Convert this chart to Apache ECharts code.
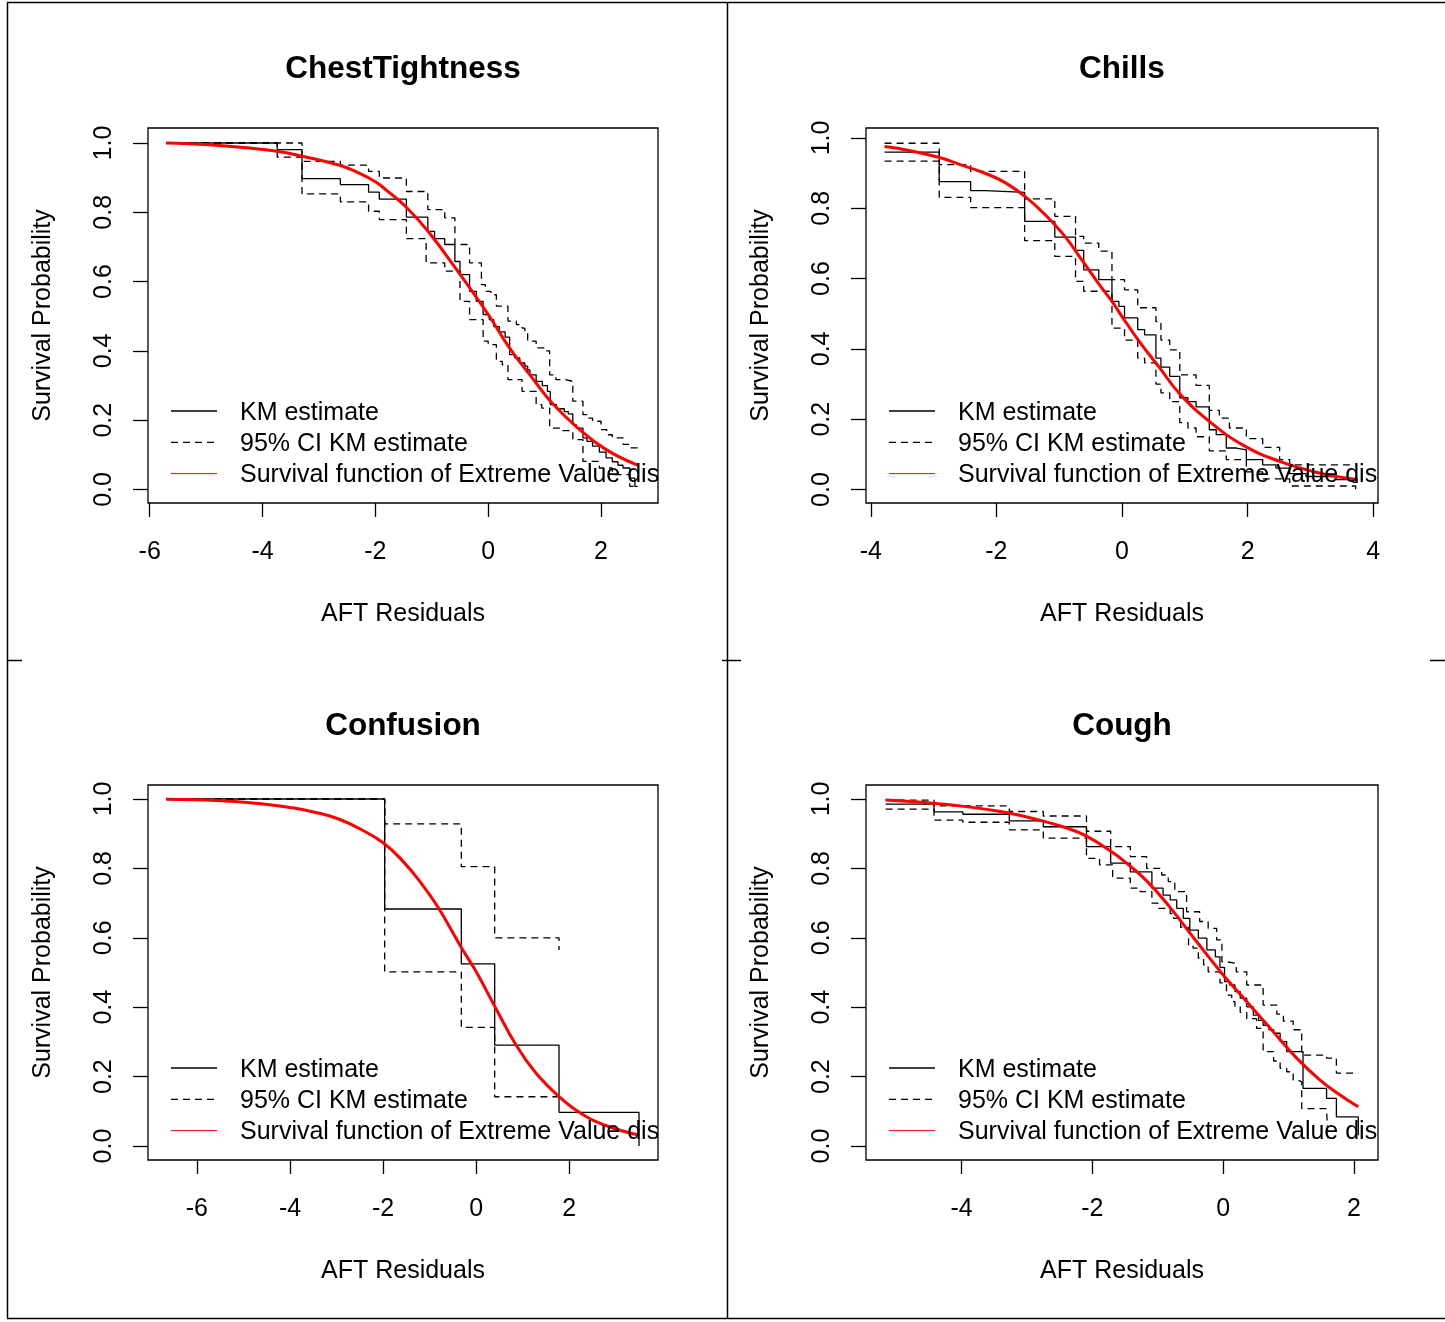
<!DOCTYPE html>
<html>
<head>
<meta charset="utf-8">
<title>AFT residual survival checks</title>
<script src="https://cdn.jsdelivr.net/npm/echarts@6/dist/echarts.min.js"></script>
<style>
  html, body { margin: 0; padding: 0; background: #ffffff; }
  #chart { width: 1445px; height: 1322px; }
</style>
</head>
<body>
<div id="chart"></div>
<script>
// ---- Panel titles, legend labels and tick values ----
const panelTitles = ['ChestTightness', 'Chills', 'Confusion', 'Cough'];
const legendLabels = ['KM estimate', '95% CI KM estimate', 'Survival function of Extreme Value distribution'];
const survTicks = [0, 0.2, 0.4, 0.6, 0.8, 1.0];
const chestXTicks = [-6, -4, -2, 0, 2];
const chillsXTicks = [-4, -2, 0, 2, 4];
const confusionXTicks = [-6, -4, -2, 0, 2];
const coughXTicks = [-4, -2, 0, 2];

// ---- ChestTightness: [residual, survival] ----
const chestKM = [[-5.71,1.0],[-3.74,0.981],[-3.30,0.897],[-2.62,0.880],[-2.12,0.858],[-1.93,0.838],[-1.45,0.786],[-1.07,0.745],[-0.95,0.724],[-0.77,0.707],[-0.59,0.658],[-0.50,0.620],[-0.33,0.572],[-0.21,0.543],[-0.09,0.505],[0.02,0.490],[0.10,0.470],[0.20,0.455],[0.30,0.440],[0.38,0.389],[0.47,0.380],[0.56,0.365],[0.65,0.356],[0.70,0.345],[0.74,0.331],[0.85,0.312],[0.96,0.300],[1.05,0.283],[1.10,0.245],[1.21,0.233],[1.35,0.225],[1.42,0.218],[1.50,0.187],[1.56,0.177],[1.68,0.149],[1.75,0.139],[1.85,0.125],[1.97,0.108],[2.09,0.091],[2.20,0.080],[2.30,0.070],[2.39,0.062],[2.51,0.033],[2.60,0.009],[2.65,0.009]];
const chestUpper = [[-5.71,1.0],[-3.30,0.947],[-2.62,0.936],[-2.12,0.918],[-1.93,0.899],[-1.45,0.860],[-1.07,0.808],[-0.77,0.784],[-0.59,0.707],[-0.33,0.654],[-0.12,0.591],[-0.05,0.572],[0.05,0.562],[0.145,0.529],[0.35,0.486],[0.50,0.476],[0.60,0.466],[0.65,0.450],[0.70,0.428],[0.85,0.409],[1.00,0.400],[1.09,0.331],[1.20,0.317],[1.37,0.312],[1.50,0.255],[1.68,0.216],[1.75,0.206],[1.85,0.197],[2.00,0.173],[2.10,0.158],[2.20,0.149],[2.39,0.130],[2.50,0.120],[2.65,0.120]];
const chestLower = [[-5.71,1.0],[-3.74,0.959],[-3.30,0.853],[-2.62,0.830],[-2.12,0.803],[-1.93,0.779],[-1.45,0.724],[-1.10,0.654],[-0.77,0.630],[-0.50,0.543],[-0.33,0.490],[-0.09,0.428],[0.00,0.418],[0.145,0.370],[0.25,0.360],[0.35,0.317],[0.60,0.283],[0.85,0.245],[0.95,0.235],[1.09,0.177],[1.30,0.170],[1.50,0.144],[1.68,0.081],[1.97,0.062],[2.20,0.043],[2.51,0.009],[2.65,0.009]];
const chestFit = [[-5.71,1.0],[-4.95,0.995],[-4.27,0.986],[-3.74,0.976],[-3.30,0.962],[-2.62,0.935],[-2.30,0.914],[-2.00,0.888],[-1.79,0.862],[-1.46,0.816],[-1.07,0.746],[-0.54,0.630],[0.0,0.505],[0.38,0.408],[0.79,0.320],[1.12,0.252],[1.62,0.173],[2.09,0.115],[2.65,0.070]];

// ---- Chills ----
const chillsKM = [[-3.78,0.960],[-2.91,0.876],[-2.41,0.850],[-2.17,0.845],[-1.55,0.763],[-1.07,0.718],[-0.74,0.680],[-0.61,0.625],[-0.37,0.597],[-0.16,0.535],[-0.05,0.521],[0.04,0.488],[0.25,0.455],[0.36,0.440],[0.54,0.374],[0.62,0.348],[0.76,0.322],[0.92,0.261],[1.05,0.250],[1.18,0.235],[1.39,0.170],[1.50,0.156],[1.66,0.118],[1.82,0.113],[1.98,0.085],[2.24,0.070],[2.45,0.061],[2.67,0.045],[2.93,0.037],[3.41,0.028],[3.68,0.020],[3.755,0.020]];
const chillsUpper = [[-3.78,0.985],[-2.91,0.924],[-2.41,0.905],[-1.55,0.827],[-1.07,0.777],[-0.74,0.720],[-0.61,0.701],[-0.37,0.678],[-0.16,0.597],[0.04,0.568],[0.25,0.517],[0.54,0.478],[0.62,0.425],[0.76,0.397],[0.92,0.326],[1.18,0.296],[1.39,0.225],[1.55,0.203],[1.71,0.175],[1.98,0.145],[2.24,0.120],[2.51,0.085],[2.67,0.070],[3.68,0.070]];
const chillsLower = [[-3.78,0.934],[-2.91,0.831],[-2.41,0.802],[-1.55,0.708],[-1.07,0.663],[-0.74,0.592],[-0.61,0.564],[-0.16,0.459],[0.04,0.425],[0.25,0.374],[0.36,0.360],[0.54,0.300],[0.62,0.275],[0.76,0.250],[0.92,0.190],[1.05,0.175],[1.18,0.150],[1.39,0.110],[1.66,0.085],[1.98,0.050],[2.24,0.030],[2.67,0.010],[3.68,0.010],[3.72,0.0]];
const chillsFit = [[-3.78,0.976],[-3.55,0.970],[-2.92,0.945],[-2.49,0.919],[-2.17,0.899],[-1.86,0.873],[-1.54,0.833],[-1.22,0.781],[-0.90,0.718],[-0.64,0.653],[-0.37,0.585],[-0.16,0.535],[0.0,0.492],[0.28,0.420],[0.60,0.346],[0.92,0.272],[1.39,0.194],[1.92,0.127],[2.51,0.080],[3.14,0.047],[3.755,0.028]];

// ---- Confusion ----
const confusionKM = [[-6.66,1.0],[-1.966,0.683],[-0.32,0.525],[0.397,0.291],[1.779,0.097],[3.497,0.0]];
const confusionUpper = [[-6.66,1.0],[-1.966,0.928],[-0.32,0.805],[0.397,0.600],[1.779,0.565]];
const confusionLower = [[-6.66,1.0],[-1.966,0.502],[-0.32,0.342],[0.397,0.142],[1.779,0.142]];
const confusionFit = [[-6.66,0.999],[-6.05,0.998],[-5.19,0.993],[-4.54,0.985],[-3.97,0.975],[-3.47,0.962],[-2.97,0.943],[-2.47,0.912],[-2.00,0.874],[-1.61,0.826],[-1.18,0.757],[-0.82,0.688],[-0.32,0.572],[0.0,0.502],[0.40,0.402],[0.83,0.297],[1.26,0.214],[1.79,0.141],[2.26,0.093],[2.83,0.057],[3.48,0.032]];

// ---- Cough ----
const coughKM = [[-5.16,0.985],[-4.42,0.963],[-3.98,0.956],[-3.27,0.937],[-2.75,0.920],[-2.09,0.863],[-1.72,0.815],[-1.42,0.790],[-1.09,0.743],[-0.92,0.723],[-0.81,0.709],[-0.71,0.685],[-0.61,0.656],[-0.51,0.622],[-0.38,0.599],[-0.25,0.565],[-0.12,0.545],[-0.05,0.515],[0.02,0.474],[0.10,0.464],[0.18,0.445],[0.26,0.426],[0.36,0.401],[0.46,0.377],[0.54,0.362],[0.61,0.348],[0.70,0.335],[0.77,0.325],[0.87,0.301],[0.97,0.272],[1.22,0.166],[1.58,0.137],[1.73,0.084],[2.065,0.031]];
const coughUpper = [[-5.16,0.997],[-4.42,0.980],[-3.27,0.964],[-2.75,0.951],[-2.09,0.907],[-1.72,0.863],[-1.42,0.834],[-1.17,0.800],[-0.94,0.781],[-0.84,0.762],[-0.74,0.733],[-0.56,0.675],[-0.36,0.647],[-0.23,0.627],[-0.10,0.594],[-0.02,0.531],[0.05,0.526],[0.20,0.502],[0.36,0.464],[0.61,0.406],[0.82,0.380],[0.92,0.360],[1.07,0.335],[1.20,0.262],[1.58,0.253],[1.73,0.210],[2.065,0.210]];
const coughLower = [[-5.16,0.971],[-4.42,0.939],[-3.98,0.933],[-3.27,0.911],[-2.75,0.887],[-2.09,0.829],[-1.89,0.810],[-1.69,0.772],[-1.42,0.743],[-1.27,0.733],[-1.09,0.700],[-1.00,0.685],[-0.81,0.670],[-0.76,0.656],[-0.65,0.630],[-0.53,0.579],[-0.46,0.570],[-0.38,0.541],[-0.30,0.522],[-0.23,0.502],[-0.05,0.470],[0.05,0.435],[0.13,0.416],[0.18,0.401],[0.26,0.385],[0.36,0.367],[0.51,0.339],[0.61,0.272],[0.77,0.245],[0.87,0.224],[0.97,0.214],[1.07,0.190],[1.14,0.185],[1.20,0.108],[1.58,0.108],[1.60,0.022]];
const coughFit = [[-5.16,0.997],[-4.44,0.988],[-3.93,0.978],[-3.32,0.961],[-2.81,0.939],[-2.40,0.917],[-2.09,0.893],[-1.74,0.852],[-1.51,0.820],[-1.17,0.764],[-0.81,0.687],[-0.41,0.590],[0.0,0.493],[0.36,0.416],[0.72,0.339],[1.12,0.254],[1.48,0.190],[1.78,0.148],[2.065,0.113]];

// ---- Layout of the four plot boxes (pixels) and their axis ranges ----
const FONT = '"Liberation Sans", Arial, Helvetica, sans-serif';
const panels = [
  { km: chestKM, up: chestUpper, lo: chestLower, fit: chestFit, xt: chestXTicks,
    box: { left: 148, top: 128, width: 510, height: 375 }, x: [-6.03, 3.01], y: [-0.039, 1.0433], legendTop: 412 },
  { km: chillsKM, up: chillsUpper, lo: chillsLower, fit: chillsFit, xt: chillsXTicks,
    box: { left: 866, top: 128, width: 512, height: 375 }, x: [-4.076, 4.076], y: [-0.0384, 1.0284], legendTop: 412 },
  { km: confusionKM, up: confusionUpper, lo: confusionLower, fit: confusionFit, xt: confusionXTicks,
    box: { left: 148, top: 785, width: 510, height: 375 }, x: [-7.05, 3.905], y: [-0.0403, 1.0403], legendTop: 1069 },
  { km: coughKM, up: coughUpper, lo: coughLower, fit: coughFit, xt: coughXTicks,
    box: { left: 866, top: 785, width: 512, height: 375 }, x: [-5.46, 2.366], y: [-0.0403, 1.0403], legendTop: 1069 }
];

const grid = [], xAxis = [], yAxis = [], series = [], title = [], graphic = [];

panels.forEach((p, i) => {
  const b = p.box;
  grid.push({ left: b.left, top: b.top, width: b.width, height: b.height,
    show: true, borderColor: '#000', borderWidth: 1.3, backgroundColor: 'transparent', containLabel: false });

  xAxis.push({
    type: 'value', gridIndex: i, min: p.x[0], max: p.x[1], position: 'bottom',
    name: 'AFT Residuals', nameLocation: 'middle', nameGap: 99,
    nameTextStyle: { fontFamily: FONT, fontSize: 25, color: '#000' },
    axisLine: { show: false, onZero: false },
    axisTick: { show: true, inside: false, length: 14, customValues: p.xt, lineStyle: { color: '#000', width: 1.3 } },
    axisLabel: { show: true, margin: 37, customValues: p.xt, fontFamily: FONT, fontSize: 25, color: '#000',
      formatter: v => String(Math.round(v)) },
    splitLine: { show: false }
  });

  yAxis.push({
    type: 'value', gridIndex: i, min: p.y[0], max: p.y[1], position: 'left',
    name: 'Survival Probability', nameLocation: 'middle', nameGap: 92, nameRotate: 90,
    nameTextStyle: { fontFamily: FONT, fontSize: 25, color: '#000' },
    axisLine: { show: false, onZero: false },
    axisTick: { show: true, inside: false, length: 15, customValues: survTicks, lineStyle: { color: '#000', width: 1.3 } },
    axisLabel: { show: true, rotate: 90, margin: 31, customValues: survTicks, fontFamily: FONT, fontSize: 25, color: '#000',
      formatter: v => v.toFixed(1) },
    splitLine: { show: false }
  });

  const common = { type: 'line', xAxisIndex: i, yAxisIndex: i, symbol: 'none', showSymbol: false,
    silent: true, animation: false, clip: true };
  series.push(Object.assign({}, common, { name: legendLabels[0], data: p.km, step: 'end',
    lineStyle: { color: '#000', width: 1.3 }, z: 3 }));
  series.push(Object.assign({}, common, { name: legendLabels[1], data: p.up, step: 'end',
    lineStyle: { color: '#000', width: 1.3, type: [7, 5] }, z: 2 }));
  series.push(Object.assign({}, common, { name: legendLabels[1], data: p.lo, step: 'end',
    lineStyle: { color: '#000', width: 1.3, type: [7, 5] }, z: 2 }));
  series.push(Object.assign({}, common, { name: legendLabels[2], data: p.fit, smooth: 0.45,
    lineStyle: { color: '#ff0000', width: 3 }, z: 4 }));

  title.push({ text: panelTitles[i], left: b.left + b.width / 2, top: b.top - 75, textAlign: 'center', padding: 0,
    textStyle: { fontFamily: FONT, fontSize: 31.5, fontWeight: 'bold', color: '#000' } });

  // legend drawn inside the plot box, clipped at its right edge
  const lx = b.left + 23, tx = b.left + 92, rowGap = 31.3;
  const lineStyles = [
    { stroke: '#000', lineWidth: 1.3 },
    { stroke: '#000', lineWidth: 1.3, lineDash: [7, 5] },
    { stroke: '#ff0000', lineWidth: 1 }
  ];
  legendLabels.forEach((lab, k) => {
    const ly = p.legendTop + k * rowGap;
    graphic.push({ type: 'line', silent: true, z: 10,
      shape: { x1: lx, y1: ly - 1, x2: lx + 46, y2: ly - 1 }, style: lineStyles[k] });
    graphic.push({ type: 'text', silent: true, z: 10, x: tx, y: ly + 1,
      style: { text: lab, font: '25px ' + FONT, fill: '#000', align: 'left', verticalAlign: 'middle',
        width: b.left + b.width - tx + 3, overflow: 'truncate', ellipsis: '' } });
  });
});

// outer frame and cell dividers around the four panels
const frameLines = [
  [7, 2.5, 1445, 2.5], [7.5, 2, 7.5, 1318], [727.5, 2, 727.5, 1318], [7, 1318.5, 1445, 1318.5],
  [7, 660.5, 22, 660.5], [722, 660.5, 741, 660.5], [1430, 660.5, 1445, 660.5]
];
frameLines.forEach(l => graphic.push({ type: 'line', silent: true, z: 10,
  shape: { x1: l[0], y1: l[1], x2: l[2], y2: l[3] }, style: { stroke: '#000', lineWidth: 1.5 } }));

const chart = echarts.init(document.getElementById('chart'), null, { renderer: 'canvas' });
chart.setOption({
  backgroundColor: '#ffffff',
  animation: false,
  title, grid, xAxis, yAxis, series, graphic
});
</script>
</body>
</html>
